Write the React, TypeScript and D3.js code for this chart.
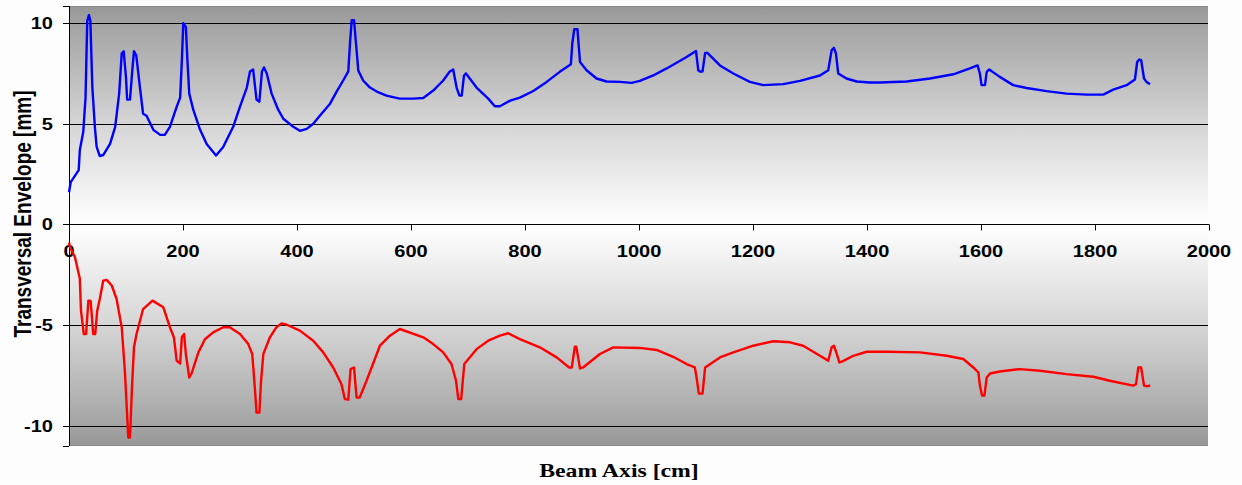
import React from "react";
import * as d3 from "d3";

// Beam axis position [cm], transversal envelope [mm]
const upperEnvelope: [number, number][] = [
  [0,1.6],[3,2.1],[17,2.7],[19,3.7],[25,4.6],[29,6.3],[32,10.1],[35,10.4],[37.5,10.1],[41,6.8],[45.5,4.8],[48.5,3.85],[54,3.4],[60,3.45],[72,4.0],[81,4.85],[88,6.5],[92.5,8.5],[96,8.6],[100,7.3],[102,6.2],[107,6.2],[111.5,7.8],[114,8.6],[118,8.4],[124.5,6.8],[130,5.5],[136,5.4],[148,4.7],[160,4.45],[168,4.45],[177,4.85],[189,5.85],[195,6.3],[198,8.15],[200.5,10.0],[205,9.8],[207.5,8.3],[211,6.5],[218,5.7],[230,4.7],[241.5,4.0],[258,3.43],[270.5,3.85],[288,4.85],[300,5.85],[312,6.8],[317.5,7.6],[323,7.7],[329,6.2],[334,6.1],[338.5,7.6],[342,7.8],[347,7.5],[355.5,6.5],[367,5.7],[376,5.25],[393.5,4.85],[405,4.65],[417,4.75],[428.5,5.0],[440,5.4],[458,6.0],[469.5,6.6],[481,7.15],[490,7.6],[493,9.0],[496,10.15],[500,10.15],[503.5,9.0],[507.5,7.65],[516,7.15],[528,6.8],[540,6.6],[557,6.4],[580,6.25],[604,6.25],[621.5,6.28],[639,6.65],[656.5,7.15],[668,7.6],[674,7.7],[680,6.8],[685,6.4],[689,6.4],[693,7.4],[696.5,7.5],[715,6.8],[735.5,6.25],[747,5.87],[756,5.87],[774,6.15],[791,6.3],[814.5,6.63],[838,7.08],[861,7.58],[880.5,7.96],[883,9.0],[886.5,9.7],[892,9.7],[896.5,8.07],[908,7.66],[925.5,7.25],[943,7.1],[966.5,7.08],[987,7.03],[1001.5,7.13],[1025,7.4],[1048.5,7.75],[1066,8.03],[1083.5,8.32],[1100,8.62],[1104,7.66],[1107,7.6],[1111.5,7.6],[1116,8.52],[1120,8.52],[1142,7.9],[1165.5,7.5],[1194.5,7.08],[1218,6.92],[1253,6.97],[1282.5,7.13],[1317.5,7.4],[1332,7.66],[1338,8.66],[1342,8.77],[1345.5,8.5],[1349.5,7.5],[1364,7.25],[1382,7.1],[1405,7.05],[1423,7.05],[1469.5,7.1],[1510.5,7.25],[1551.5,7.46],[1580.5,7.75],[1594,7.9],[1598,7.5],[1601,6.92],[1607,6.92],[1610,7.58],[1614.5,7.7],[1633,7.33],[1656.5,6.92],[1680,6.78],[1715,6.62],[1750,6.5],[1785.5,6.45],[1814.5,6.45],[1832,6.7],[1855.5,6.92],[1870,7.2],[1874,8.07],[1877.5,8.19],[1881,8.16],[1886,7.25],[1890.5,7.08],[1896.5,6.97]
];

const lowerEnvelope: [number, number][] = [
  [0,-0.9],[2,-1.13],[10.5,-1.63],[19,-2.7],[21,-4.28],[26,-5.44],[30,-5.44],[34,-3.78],[38,-3.8],[42.5,-5.44],[46,-5.44],[49.5,-4.28],[54,-3.7],[60,-2.79],[66,-2.75],[75,-3.03],[83.5,-3.7],[92.5,-5.1],[98,-7.26],[101,-8.92],[104,-10.58],[107,-10.58],[110.5,-8.1],[114,-6.1],[118.5,-5.44],[130,-4.2],[146.5,-3.78],[165.5,-4.11],[177,-5.1],[184,-5.6],[189,-6.77],[195,-6.9],[198,-5.6],[202,-5.44],[205,-6.43],[211,-7.6],[215,-7.4],[227,-6.35],[238.5,-5.7],[253,-5.36],[270.5,-5.1],[282,-5.1],[300,-5.44],[314.5,-5.94],[321.5,-6.43],[326,-8.1],[329,-9.34],[334,-9.34],[337,-7.76],[341,-6.43],[352.5,-5.6],[364,-5.1],[373,-4.91],[382,-4.98],[405,-5.27],[428.5,-5.77],[446,-6.35],[463.5,-7.1],[478,-7.93],[484,-8.67],[490,-8.7],[494,-7.18],[500,-7.1],[504.5,-8.59],[510,-8.59],[522,-7.76],[545.5,-6.02],[563,-5.52],[580.5,-5.19],[621.5,-5.6],[639,-5.94],[656.5,-6.35],[671,-6.93],[679,-7.76],[683,-8.67],[688,-8.67],[693.5,-6.93],[715,-6.19],[735.5,-5.77],[756,-5.52],[770.5,-5.4],[791,-5.69],[826,-6.1],[855.5,-6.6],[877.5,-7.1],[882,-7.1],[887.5,-6.07],[890,-6.07],[896.5,-7.15],[902,-7.1],[931.5,-6.43],[955,-6.1],[1001.5,-6.13],[1031,-6.23],[1060,-6.57],[1083.5,-6.93],[1098,-7.1],[1101,-7.6],[1105,-8.4],[1111.5,-8.4],[1116,-7.1],[1142,-6.6],[1165.5,-6.35],[1200.5,-6.02],[1235.5,-5.8],[1265,-5.85],[1288,-6.02],[1317.5,-6.52],[1332,-6.77],[1338,-6.1],[1342,-6.02],[1347,-6.43],[1351.5,-6.85],[1357,-6.8],[1376,-6.52],[1399.5,-6.32],[1434.5,-6.32],[1493,-6.35],[1540,-6.52],[1569,-6.68],[1586.5,-7.1],[1595.5,-7.35],[1598,-8.0],[1602,-8.5],[1606,-8.5],[1610,-7.6],[1616,-7.4],[1633,-7.3],[1668,-7.18],[1703.5,-7.26],[1750,-7.43],[1797,-7.56],[1826,-7.76],[1867,-8.0],[1872,-7.93],[1876,-7.1],[1881,-7.1],[1886,-8.0],[1890.5,-8.03],[1897,-8.0]
];

const xTicks = [0, 200, 400, 600, 800, 1000, 1200, 1400, 1600, 1800, 2000];
const yTicks = [10, 5, 0, -5, -10];
const xDomain: [number, number] = [0, 2000];
const yDomain: [number, number] = [-11, 10.85];
const xTitle = "Beam Axis [cm]";
const yTitle = "Transversal Envelope [mm]";

const W = 1242, H = 485;
const L = 69, R = 1209, T = 6, B = 446;
const SX = 1.25; // horizontal text stretch

export default function App() {
  const x = d3.scaleLinear().domain(xDomain).range([L, R]);
  const y = d3.scaleLinear().domain(yDomain).range([B, T]);
  const line = d3.line<[number, number]>().x(d => x(d[0])).y(d => y(d[1]));
  const y0 = y(0);
  const mid = (y0 - T) / (B - T);
  const sans = "'Liberation Sans', Arial, sans-serif";
  return (
    <svg width={W} height={H} style={{ position: "absolute", left: 0, top: 0, background: "#fdfdfd" }}>
      <defs>
        <linearGradient id="bg" x1="0" y1="0" x2="0" y2="1">
          <stop offset="0" stopColor="#969696" />
          <stop offset={mid * 0.08} stopColor="#a3a3a3" />
          <stop offset={mid * 0.54} stopColor="#d5d5d5" />
          <stop offset={mid} stopColor="#ffffff" />
          <stop offset={mid + (1 - mid) * 0.46} stopColor="#d5d5d5" />
          <stop offset={mid + (1 - mid) * 0.92} stopColor="#a3a3a3" />
          <stop offset="1" stopColor="#969696" />
        </linearGradient>
      </defs>
      <rect x={L} y={T} width={R - 1 - L} height={B - T} fill="url(#bg)" />
      <line x1={L} x2={R - 1} y1={T + 0.5} y2={T + 0.5} stroke="#8a8a8a" />
      <line x1={L} x2={R - 1} y1={B - 0.5} y2={B - 0.5} stroke="#8a8a8a" />
      {yTicks.filter(v => v !== 0).map(v => (
        <line key={"g" + v} x1={L} x2={R - 1} y1={Math.round(y(v)) + 0.5} y2={Math.round(y(v)) + 0.5} stroke="#000" strokeWidth={1} />
      ))}
      {/* y axis */}
      <line x1={L + 0.5} x2={L + 0.5} y1={T} y2={B} stroke="#000" />
      {[...yTicks, yDomain[0], yDomain[1]].map((v, i) => (
        <line key={"yt" + i} x1={L - 6} x2={L} y1={Math.round(y(v)) + 0.5} y2={Math.round(y(v)) + 0.5} stroke="#000" />
      ))}
      {yTicks.map(v => (
        <text key={"yl" + v} transform={`translate(${L - 16},${y(v) + 5.7}) scale(${SX},1)`} textAnchor="end"
          fontFamily={sans} fontWeight="bold" fontSize={16} fill="#000">{v}</text>
      ))}
      {/* x axis at y=0 */}
      <line x1={L} x2={R} y1={Math.round(y0) + 0.5} y2={Math.round(y0) + 0.5} stroke="#000" />
      {xTicks.map(v => (
        <line key={"xt" + v} x1={Math.round(x(v)) + 0.5} x2={Math.round(x(v)) + 0.5} y1={y0} y2={y0 + 6} stroke="#000" />
      ))}
      {xTicks.map(v => (
        <text key={"xl" + v} transform={`translate(${x(v)},${y0 + 33}) scale(${SX},1)`} textAnchor="middle"
          fontFamily={sans} fontWeight="bold" fontSize={16} fill="#000">{v}</text>
      ))}
      <path d={line(upperEnvelope) || ""} fill="none" stroke="#0000ff" strokeWidth={2.4} strokeLinejoin="round" />
      <path d={line(lowerEnvelope) || ""} fill="none" stroke="#ff0000" strokeWidth={2.4} strokeLinejoin="round" />
      <text transform={`translate(619,477) scale(${SX},1)`} textAnchor="middle"
        fontFamily="'Liberation Serif', 'Times New Roman', serif" fontWeight="bold" fontSize={19} fill="#000">{xTitle}</text>
      <text transform={`translate(31,214) scale(${SX},1) rotate(-90)`} textAnchor="middle"
        fontFamily={sans} fontWeight="bold" fontSize={19} fill="#000">{yTitle}</text>
    </svg>
  );
}
